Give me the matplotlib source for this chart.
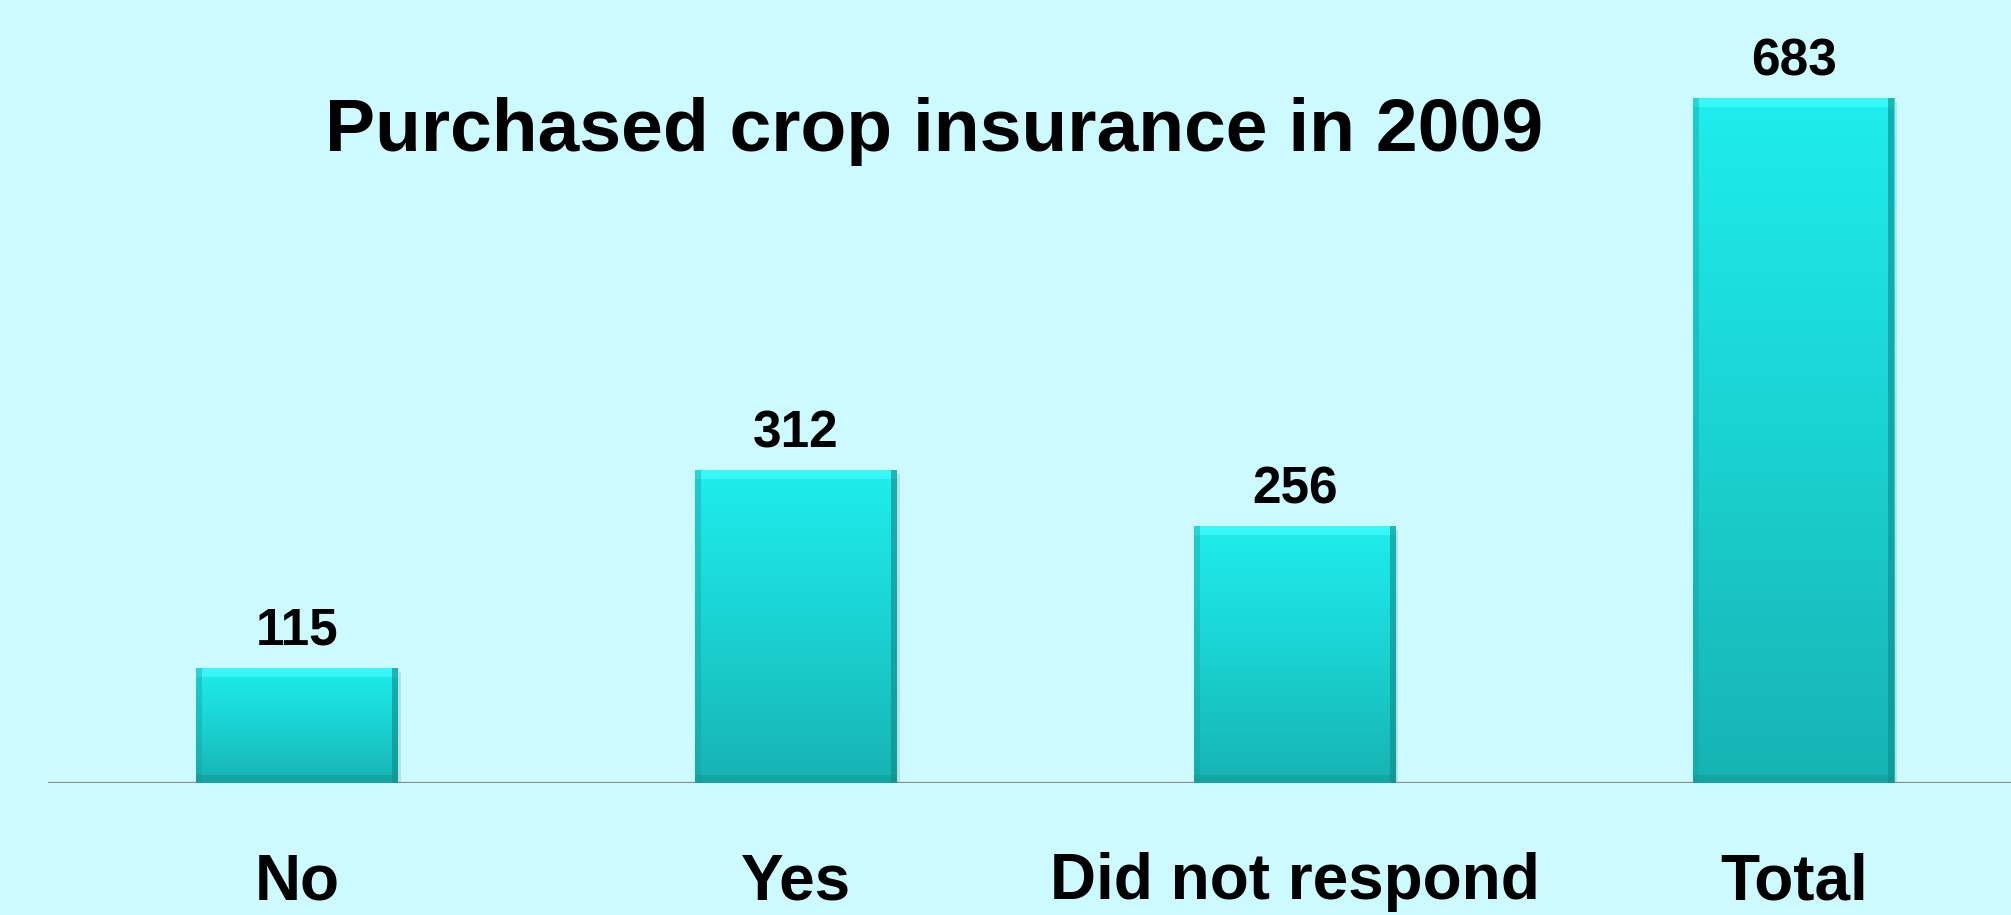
import numpy as np
import matplotlib.pyplot as plt
from matplotlib.colors import LinearSegmentedColormap
from matplotlib.patches import Rectangle

plt.rcParams['font.family'] = ['Liberation Sans', 'DejaVu Sans']

categories = ["No", "Yes", "Did not respond", "Total"]
values = [115, 312, 256, 683]
title = "Purchased crop insurance in 2009"

bg = "#CCFAFF"
fig = plt.figure(figsize=(20.11, 9.15), dpi=100, facecolor=bg)
ax = fig.add_axes([48 / 2011, 132 / 915, 1 - 48 / 2011, 783 / 915])
ax.set_facecolor(bg)

x = np.arange(len(categories))
width = 0.403
ax.set_xlim(-0.499, 3.435)
ax.set_ylim(0, 780.7)

grad = LinearSegmentedColormap.from_list("cy", ["#17B3B3", "#1BD2D2", "#1FEDED"])
g = np.linspace(0, 1, 256).reshape(-1, 1)

for xi, v in zip(x, values):
    x0, x1 = xi - width / 2, xi + width / 2
    # soft drop shadow
    ax.add_patch(Rectangle((x0 + 0.006, -4), width, v, facecolor="#000000",
                           alpha=0.10, edgecolor="none", zorder=1))
    bar = ax.bar(xi, v, width, color="none", edgecolor="none", zorder=2)[0]
    im = ax.imshow(g, cmap=grad, extent=(x0, x1, 0, v), origin="lower",
                   aspect="auto", zorder=2)
    im.set_clip_path(bar)
    # bevel highlights and edges
    ax.add_patch(Rectangle((x0, v - 9), width, 9, facecolor="#3FFAFA",
                           edgecolor="none", alpha=0.8, zorder=3))
    ax.add_patch(Rectangle((x0, 0), 0.012, v, facecolor="#13A0A0",
                           edgecolor="none", alpha=0.4, zorder=3))
    ax.add_patch(Rectangle((x1 - 0.012, 0), 0.012, v, facecolor="#0E8A8A",
                           edgecolor="none", alpha=0.6, zorder=3))
    ax.add_patch(Rectangle((x0, 0), width, 8, facecolor="#118F8F",
                           edgecolor="none", alpha=0.4, zorder=3))
    ax.annotate(str(v), (xi, v), xytext=(0, 16.5), textcoords="offset points",
                ha="center", va="baseline", fontsize=37, fontweight="bold")
    ax.text(xi, -116 / 783, categories[xi], transform=ax.get_xaxis_transform(),
            ha="center", va="baseline", fontsize=46, fontweight="bold")

ax.axhline(0, color="#8C8C8C", lw=1.6, zorder=1.5)
for s in ax.spines.values():
    s.set_visible(False)
ax.set_xticks([])
ax.set_yticks([])

fig.text(934 / 2011, 1 - 151 / 915, title, ha="center", va="baseline",
         fontsize=54, fontweight="bold")

fig.savefig("out.png", dpi=100, facecolor=bg)
